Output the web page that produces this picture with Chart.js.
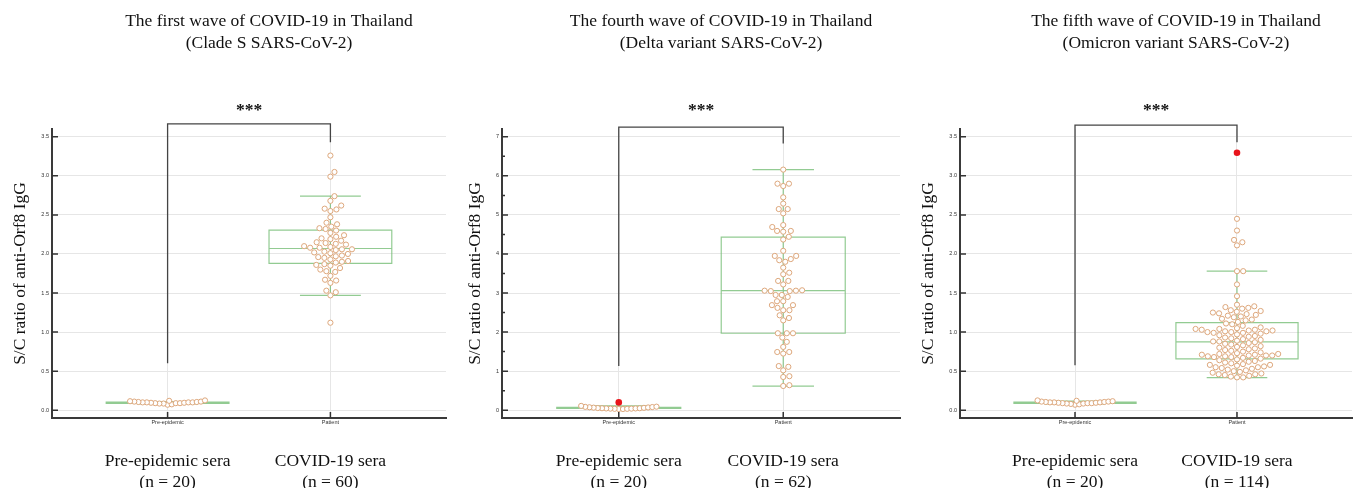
<!DOCTYPE html>
<html>
<head>
<meta charset="utf-8">
<script src="https://cdn.jsdelivr.net/npm/chart.js@4.4.1/dist/chart.umd.min.js"></script>
<style>
  html, body { margin: 0; padding: 0; background: #fff; }
  #wrap { position: relative; width: 1357px; height: 488px; }
  .panel { position: absolute; top: 0; }
</style>
</head>
<body>
<div id="wrap">
  <canvas id="c1" class="panel" style="left:0px" width="452" height="488"></canvas>
  <canvas id="c2" class="panel" style="left:452px" width="453" height="488"></canvas>
  <canvas id="c3" class="panel" style="left:905px" width="452" height="488"></canvas>
</div>
<script>
// categorias y textos
const groups = ['Pre-epidemic', 'Patient'];
const groupLabels = ['Pre-epidemic sera', 'COVID-19 sera'];
const yTitle = 'S/C ratio of anti-Orf8 IgG';

const title1 = ['The first wave of COVID-19 in Thailand', '(Clade S SARS-CoV-2)'];
const title2 = ['The fourth wave of COVID-19 in Thailand', '(Delta variant SARS-CoV-2)'];
const title3 = ['The fifth wave of COVID-19 in Thailand', '(Omicron variant SARS-CoV-2)'];

const nCounts1 = [20, 60];
const nCounts2 = [20, 62];
const nCounts3 = [20, 114];

// ticks del eje y
const yTicks1 = [0, 0.5, 1, 1.5, 2, 2.5, 3, 3.5];
const yTicks2 = [0, 1, 2, 3, 4, 5, 6, 7];
const yMinor2 = [0.5, 1.5, 2.5, 3.5, 4.5, 5.5, 6.5];
const yTicks3 = [0, 0.5, 1, 1.5, 2, 2.5, 3, 3.5];

// valores (ola 1)
const pre1 = [0.07, 0.075, 0.085, 0.085, 0.09, 0.09, 0.09, 0.095, 0.095, 0.1,
  0.1, 0.1, 0.1, 0.105, 0.105, 0.11, 0.11, 0.115, 0.12, 0.125];
const patient1 = [3.26, 3.05, 2.99, 2.74, 2.68, 2.62, 2.58, 2.57, 2.55, 2.47,
  2.40, 2.38, 2.35, 2.33, 2.32, 2.30, 2.27, 2.24, 2.22, 2.20,
  2.19, 2.17, 2.15, 2.14, 2.13, 2.12, 2.10, 2.09, 2.08, 2.08,
  2.06, 2.06, 2.05, 2.03, 2.02, 2.01, 2.00, 1.98, 1.97, 1.96,
  1.95, 1.93, 1.91, 1.90, 1.89, 1.87, 1.86, 1.85, 1.82, 1.80,
  1.78, 1.77, 1.72, 1.67, 1.66, 1.63, 1.53, 1.51, 1.47, 1.12];
const pre1Outliers = [];
const patient1Outliers = [];

// valores (ola 4)
const pre2 = [0.03, 0.03, 0.035, 0.035, 0.04, 0.04, 0.045, 0.045, 0.05, 0.05,
  0.055, 0.06, 0.065, 0.07, 0.075, 0.08, 0.085, 0.09, 0.11];
const patient2 = [6.16, 5.80, 5.80, 5.74, 5.45, 5.29, 5.15, 5.15, 5.04, 4.74,
  4.69, 4.59, 4.59, 4.57, 4.44, 4.37, 4.08, 3.95, 3.95, 3.87,
  3.84, 3.80, 3.65, 3.52, 3.48, 3.31, 3.31, 3.22, 3.07, 3.06,
  3.06, 3.05, 3.05, 2.95, 2.95, 2.90, 2.79, 2.79, 2.69, 2.69,
  2.62, 2.56, 2.56, 2.43, 2.36, 2.30, 1.97, 1.97, 1.97, 1.86,
  1.75, 1.62, 1.49, 1.49, 1.45, 1.13, 1.11, 1.02, 0.87, 0.85,
  0.64, 0.62];
const pre2Outliers = [0.2];
const patient2Outliers = [];

// valores (ola 5)
const pre3 = [0.07, 0.075, 0.08, 0.085, 0.085, 0.09, 0.09, 0.09, 0.095, 0.095,
  0.1, 0.1, 0.1, 0.105, 0.105, 0.11, 0.11, 0.115, 0.12, 0.125];
const patient3 = [2.45, 2.30, 2.18, 2.15, 2.11, 1.78, 1.78, 1.61, 1.46,
  1.35, 1.33, 1.32, 1.31, 1.30, 1.28, 1.27, 1.26, 1.25, 1.24,
  1.23, 1.22, 1.21, 1.20, 1.19, 1.17, 1.16, 1.15, 1.13,
  1.11, 1.10, 1.08, 1.06, 1.05, 1.04, 1.04, 1.03, 1.03, 1.02,
  1.02, 1.01, 1.01, 1.00, 1.00, 0.99, 0.99, 0.98, 0.97, 0.96,
  0.95, 0.94, 0.93, 0.92, 0.91, 0.90, 0.89, 0.88, 0.88,
  0.87, 0.86, 0.85, 0.84, 0.83, 0.82, 0.81, 0.80, 0.79, 0.78,
  0.77, 0.76, 0.75, 0.74, 0.73, 0.72, 0.72, 0.71, 0.71, 0.70,
  0.70, 0.70, 0.69, 0.69, 0.68, 0.68, 0.67, 0.66,
  0.65, 0.64, 0.63, 0.62, 0.61, 0.60, 0.59, 0.58, 0.58, 0.57,
  0.56, 0.55, 0.55, 0.54, 0.53, 0.52, 0.51, 0.50, 0.49, 0.48,
  0.47, 0.46, 0.46, 0.45, 0.44, 0.43, 0.42, 0.42];
const pre3Outliers = [];
const patient3Outliers = [3.295];

// cajas: [bigote inf, q1, mediana, q3, bigote sup]
const pre1Box = [0.08, 0.088, 0.094, 0.102, 0.11];
const patient1Box = [1.47, 1.88, 2.07, 2.305, 2.74];
const pre2Box = [0.03, 0.045, 0.06, 0.075, 0.11];
const patient2Box = [0.615, 1.97, 3.06, 4.43, 6.16];
const pre3Box = [0.08, 0.088, 0.095, 0.104, 0.115];
const patient3Box = [0.418, 0.657, 0.875, 1.12, 1.78];

// corchete de significancia: [altura, fin pata izq, fin pata der]
const sig1 = [3.666, 0.60, 3.43];
const sig2 = [7.25, 1.13, 6.83];
const sig3 = [3.65, 0.576, 3.43];

const serif = '"Liberation Serif", "Times New Roman", serif';
const sans = '"Liberation Sans", Arial, sans-serif';

// dibuja cajas antes de los puntos
const boxPlugin = {
  id: 'boxes',
  beforeDatasetsDraw(chart, args, opts) {
    const { ctx, scales: { x, y } } = chart;
    ctx.save();
    ctx.strokeStyle = 'rgba(110, 185, 110, 0.75)';
    ctx.lineWidth = 1.2;
    opts.boxes.forEach((b, g) => {
      const cx = x.getPixelForValue(g);
      const hw = x.getPixelForValue(g + 0.377) - cx;
      const cw = x.getPixelForValue(g + 0.187) - cx;
      const [lo, q1, med, q3, hi] = b.map(v => y.getPixelForValue(v));
      ctx.beginPath();
      ctx.moveTo(cx, lo); ctx.lineTo(cx, hi);
      ctx.moveTo(cx - cw, lo); ctx.lineTo(cx + cw, lo);
      ctx.moveTo(cx - cw, hi); ctx.lineTo(cx + cw, hi);
      ctx.moveTo(cx - hw, med); ctx.lineTo(cx + hw, med);
      ctx.rect(cx - hw, q3, hw * 2, q1 - q3);
      ctx.stroke();
    });
    ctx.restore();
  }
};

// marcas hacia dentro, corchete, titulos, etiquetas de grupo
const extrasPlugin = {
  id: 'extras',
  afterDraw(chart, args, o) {
    const { ctx, chartArea: a, scales: { x, y } } = chart;
    ctx.save();
    ctx.strokeStyle = '#333';
    ctx.lineWidth = 1.5;
    ctx.beginPath();
    y.ticks.forEach(t => {
      const py = y.getPixelForValue(t.value);
      ctx.moveTo(a.left, py); ctx.lineTo(a.left + 6, py);
    });
    o.minor.forEach(v => {
      const py = y.getPixelForValue(v);
      ctx.moveTo(a.left, py); ctx.lineTo(a.left + 3, py);
    });
    x.ticks.forEach(t => {
      const px = x.getPixelForValue(t.value);
      ctx.moveTo(px, a.bottom); ctx.lineTo(px, a.bottom - 6);
    });
    ctx.stroke();

    // corchete
    const x0 = x.getPixelForValue(0), x1 = x.getPixelForValue(1);
    const yt = y.getPixelForValue(o.sig[0]);
    ctx.strokeStyle = '#444';
    ctx.lineWidth = 1.3;
    ctx.beginPath();
    ctx.moveTo(x0, y.getPixelForValue(o.sig[1]));
    ctx.lineTo(x0, yt);
    ctx.lineTo(x1, yt);
    ctx.lineTo(x1, y.getPixelForValue(o.sig[2]));
    ctx.stroke();

    ctx.fillStyle = '#111';
    ctx.textAlign = 'center';
    ctx.textBaseline = 'middle';
    ctx.font = 'bold 17.5px ' + serif;
    ctx.fillText('***', (x0 + x1) / 2, 110);

    ctx.font = '17.5px ' + serif;
    const tx = (a.left + a.right) / 2 + 20;
    o.title.forEach((t, i) => ctx.fillText(t, tx, 21 + i * 22));
    groups.forEach((g, i) => {
      const px = x.getPixelForValue(i);
      ctx.fillText(groupLabels[i], px, 461);
      ctx.fillText('(n = ' + o.n[i] + ')', px, 482);
    });
    ctx.restore();
  }
};

// beeswarm: desplazamiento horizontal en pixeles
function swarm(ys, d) {
  const order = ys.map((v, i) => i).sort((a, b) => ys[b] - ys[a]);
  const placed = [];
  const off = new Array(ys.length);
  order.forEach(i => {
    const y = ys[i];
    const near = placed.filter(p => Math.abs(p.y - y) < d);
    const cands = [0];
    near.forEach(p => {
      const dx = Math.sqrt(d * d - (p.y - y) * (p.y - y));
      cands.push(p.x + dx, p.x - dx);
    });
    cands.sort((a, b) => Math.abs(a) - Math.abs(b));
    const cx = cands.find(c => near.every(p => (p.x - c) ** 2 + (p.y - y) ** 2 >= d * d - 0.01));
    placed.push({ x: cx, y });
    off[i] = cx;
  });
  return off;
}

function crearPanel(id, cfg) {
  const chart = new Chart(document.getElementById(id), {
    type: 'scatter',
    data: {
      datasets: [
        {
          data: cfg.pre.map(v => ({ x: 0, y: v })),
          pointRadius: 2.6, pointBorderWidth: 1,
          pointBackgroundColor: '#fff', pointBorderColor: '#dda77c'
        },
        {
          data: cfg.patient.map(v => ({ x: 1, y: v })),
          pointRadius: 2.6, pointBorderWidth: 1,
          pointBackgroundColor: '#fff', pointBorderColor: '#dda77c'
        },
        {
          data: [],
          pointRadius: 3.3, pointBorderWidth: 0,
          pointBackgroundColor: '#e8141b', pointBorderColor: '#e8141b'
        }
      ]
    },
    options: {
      responsive: false,
      animation: false,
      events: [],
      layout: { padding: { top: 129, right: cfg.padRight, left: 0, bottom: 0 } },
      scales: {
        x: {
          type: 'linear', min: -0.71, max: 1.71,
          afterBuildTicks: s => { s.ticks = groups.map((g, i) => ({ value: i })); },
          afterFit: s => { s.height = 70; },
          ticks: {
            callback: v => groups[v],
            font: { family: sans, size: 5.5 }, color: '#333', padding: 1, maxRotation: 0
          },
          grid: { color: '#e6e6e6', lineWidth: 1, drawTicks: false },
          border: { color: '#3a3a3a', width: 2 }
        },
        y: {
          min: cfg.yMin, max: cfg.yMax,
          afterBuildTicks: s => { s.ticks = cfg.yTicks.map(v => ({ value: v })); },
          afterFit: s => { s.width = cfg.yWidth; },
          ticks: {
            callback: v => v.toFixed(cfg.dec),
            font: { family: sans, size: 5.5 }, color: '#333', padding: 3
          },
          grid: { color: '#e6e6e6', lineWidth: 1, drawTicks: false },
          border: { color: '#3a3a3a', width: 2 },
          title: {
            display: true, text: yTitle, color: '#111',
            font: { family: serif, size: 17.5 }, padding: { top: cfg.titlePad, bottom: 0 }
          }
        }
      },
      plugins: {
        legend: { display: false },
        tooltip: { enabled: false },
        boxes: { boxes: [cfg.preBox, cfg.patientBox] },
        extras: { title: cfg.title, n: cfg.n, sig: cfg.sig, minor: cfg.minor }
      }
    },
    plugins: [boxPlugin, extrasPlugin]
  });

  // acomodar puntos (beeswarm) con las escalas ya calculadas
  const xs = chart.scales.x, ys = chart.scales.y;
  const unit = xs.getPixelForValue(1) - xs.getPixelForValue(0);
  const rojos = [];
  [[cfg.pre, cfg.preOut, 4.2], [cfg.patient, cfg.patientOut, 6.2]].forEach(([vals, outs, d], g) => {
    const all = vals.concat(outs);
    const off = swarm(all.map(v => ys.getPixelForValue(v)), d);
    chart.data.datasets[g].data = vals.map((v, i) => ({ x: g + off[i] / unit, y: v }));
    outs.forEach((v, j) => rojos.push({ x: g + off[vals.length + j] / unit, y: v }));
  });
  chart.data.datasets[2].data = rojos;
  chart.update('none');
  return chart;
}

crearPanel('c1', {
  title: title1, n: nCounts1, sig: sig1, minor: [],
  pre: pre1, patient: patient1, preOut: pre1Outliers, patientOut: patient1Outliers,
  preBox: pre1Box, patientBox: patient1Box,
  yMin: -0.1, yMax: 3.6, yTicks: yTicks1, dec: 1,
  yWidth: 52, padRight: 6, titlePad: 9.5
});
crearPanel('c2', {
  title: title2, n: nCounts2, sig: sig2, minor: yMinor2,
  pre: pre2, patient: patient2, preOut: pre2Outliers, patientOut: patient2Outliers,
  preBox: pre2Box, patientBox: patient2Box,
  yMin: -0.2, yMax: 7.2, yTicks: yTicks2, dec: 0,
  yWidth: 50, padRight: 5, titlePad: 12.5
});
crearPanel('c3', {
  title: title3, n: nCounts3, sig: sig3, minor: [],
  pre: pre3, patient: patient3, preOut: pre3Outliers, patientOut: patient3Outliers,
  preBox: pre3Box, patientBox: patient3Box,
  yMin: -0.1, yMax: 3.6, yTicks: yTicks3, dec: 1,
  yWidth: 55, padRight: 2, titlePad: 12.5
});
</script>
</body>
</html>
